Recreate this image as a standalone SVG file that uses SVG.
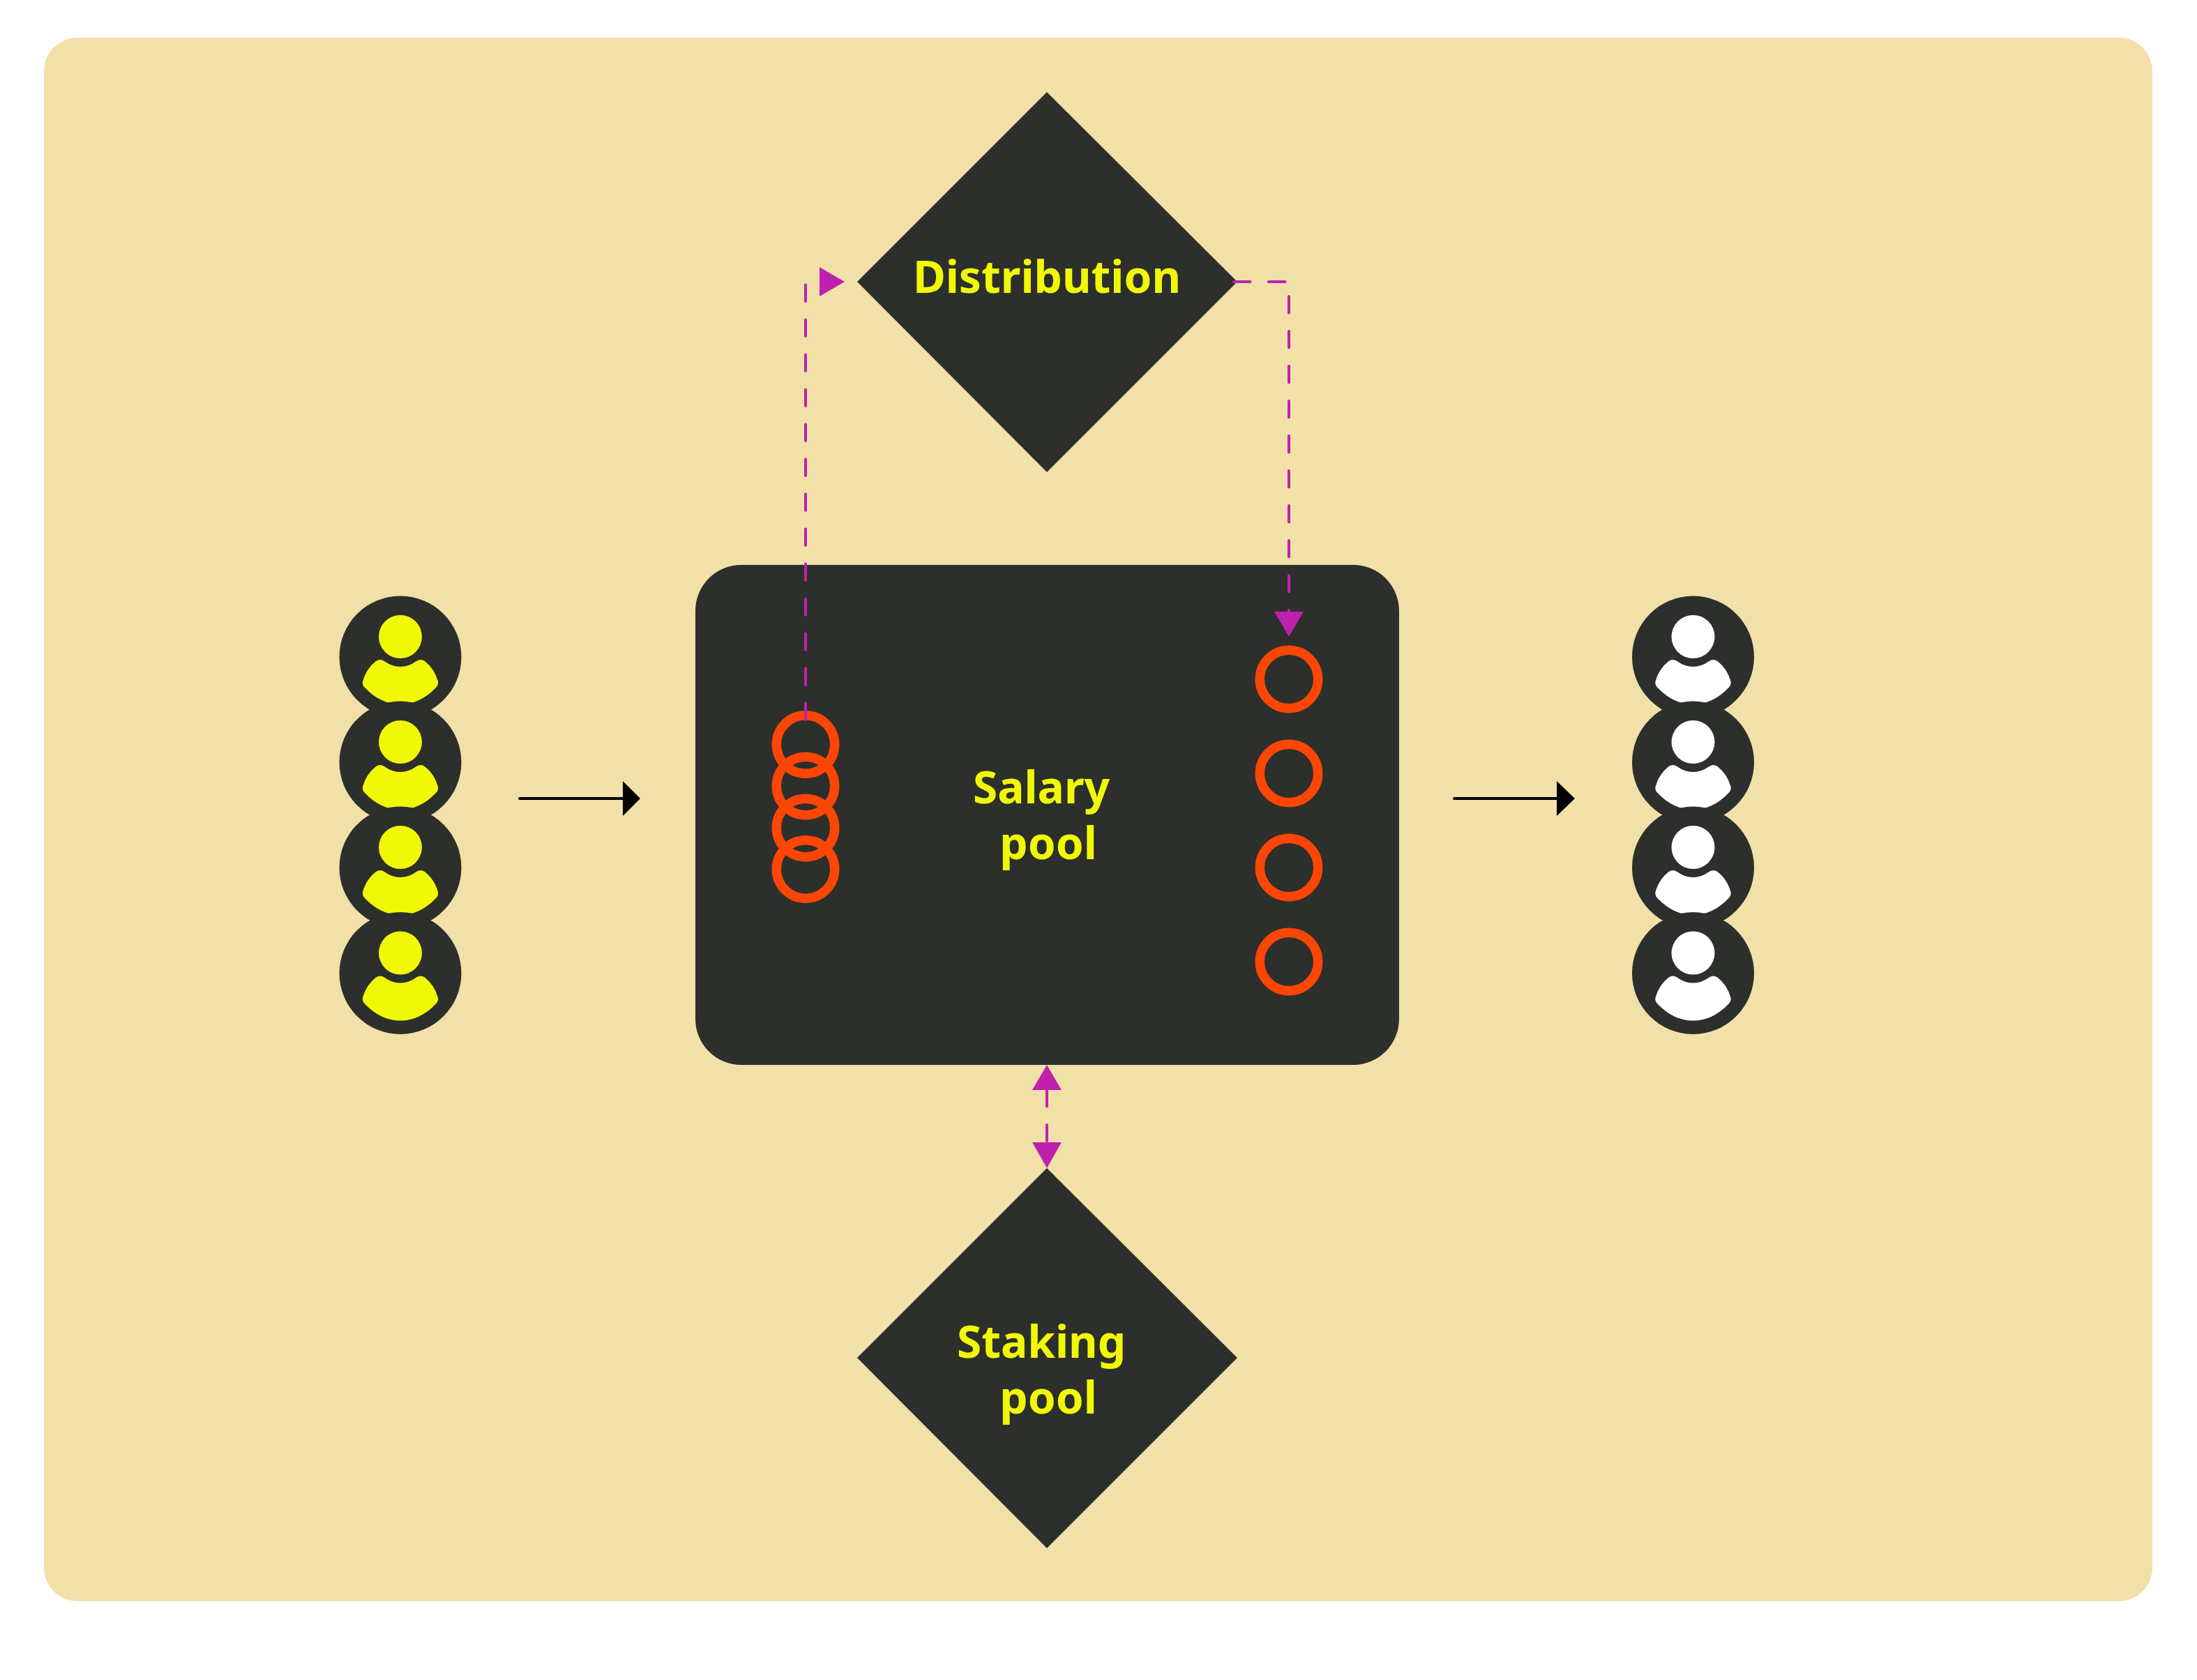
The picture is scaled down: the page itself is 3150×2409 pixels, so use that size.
<svg xmlns="http://www.w3.org/2000/svg" width="3150" height="2409" viewBox="0 0 3150 2409">
<style>
.dark{fill:#2c2f2b}
.lbl{font-family:"Noto Sans","Open Sans",sans-serif;font-weight:700;font-size:64px;fill:#f1f806;text-anchor:middle}
.ring{fill:none;stroke:#fb4606;stroke-width:13.5}
.dash{fill:none;stroke:#bf21ae;stroke-width:4;stroke-linecap:round;stroke-dasharray:23.5 26.5}
.tip{fill:#bf21ae}
.solid{fill:none;stroke:#000;stroke-width:4;stroke-linecap:round}
.y{fill:#f1f806}
.w{fill:#fff}
</style>
<defs>
<g id="person">
<circle class="dark" r="87.5"/>
<circle cy="-29" r="31"/>
<path d="M-35 6Q-29 2 -23 6Q-12 14 0 14Q12 14 23 6Q29 2 35 6Q49 17 54 35Q55 40 51 44Q28 68 0 68Q-28 68 -51 44Q-55 40 -54 35Q-49 17 -35 6Z"/>
</g>
</defs>
<rect x="63" y="54" width="3023" height="2242" rx="48" fill="#f2e0a9"/>
<g id="salary-pool"><rect class="dark" x="997" y="810" width="1009" height="717" rx="66"/><text class="lbl" x="1493" y="1152">Salary</text><text class="lbl" x="1503" y="1232">pool</text></g>
<g id="distribution"><path class="dark" d="M1501 132L1774 404L1501 677L1229 404Z"/><text class="lbl" x="1501" y="420">Distribution</text></g>
<g id="staking-pool"><path class="dark" d="M1501 1675L1774 1947L1501 2220L1229 1947Z"/><text class="lbl" x="1493" y="1947">Staking</text><text class="lbl" x="1503" y="2027">pool</text></g>
<g id="users-in">
<use href="#person" x="574" y="942" class="y"/><use href="#person" x="574" y="1093" class="y"/><use href="#person" x="574" y="1244" class="y"/><use href="#person" x="574" y="1395.5" class="y"/>
</g>
<g id="users-out">
<use href="#person" x="2427.5" y="942" class="w"/><use href="#person" x="2427.5" y="1093" class="w"/><use href="#person" x="2427.5" y="1244" class="w"/><use href="#person" x="2427.5" y="1395.5" class="w"/>
</g>
<g id="tokens-left">
<circle class="ring" cx="1155" cy="1067.5" r="41.7"/><circle class="ring" cx="1155" cy="1127" r="41.7"/><circle class="ring" cx="1155" cy="1187" r="41.7"/><circle class="ring" cx="1155" cy="1246.5" r="41.7"/>
</g>
<g id="tokens-right">
<circle class="ring" cx="1848" cy="974" r="41.7"/><circle class="ring" cx="1848" cy="1109" r="41.7"/><circle class="ring" cx="1848" cy="1244" r="41.7"/><circle class="ring" cx="1848" cy="1379" r="41.7"/>
</g>
<g id="connectors">
<path class="dash" d="M1155 1032V404H1175"/>
<path class="tip" d="M1175 383L1211 404L1175 425Z"/>
<path class="dash" d="M1769 404H1848V877"/>
<path class="tip" d="M1827 877H1869L1848 913Z"/>
<path class="dash" d="M1501 1563V1636"/>
<path class="tip" d="M1501 1527L1522 1563H1480Z"/>
<path class="tip" d="M1480 1638H1522L1501 1675Z"/>
<path class="solid" d="M745 1145H893"/><path d="M893 1120L918 1145L893 1170Z"/>
<path class="solid" d="M2085 1145H2233"/><path d="M2232 1120L2258 1145L2232 1170Z"/>
</g>
</svg>
